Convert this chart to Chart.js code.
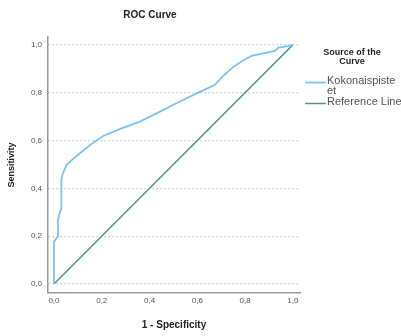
<!DOCTYPE html>
<html lang="en">
<head>
  <meta charset="UTF-8">
  <title>ROC Curve</title>
  <script src="https://cdn.jsdelivr.net/npm/chart.js"></script>
  <style>
    html, body { margin: 0; padding: 0; background: #fff; }
    #wrap { width: 401px; height: 336px; }
  </style>
</head>
<body>
  <div id="wrap"><canvas id="roc"></canvas></div>
  <script>
    // ROC points: 1 - specificity (x) and sensitivity (y)
    const fpr = [0, 0, 0.011, 0.017, 0.017, 0.025, 0.031, 0.031, 0.035, 0.053, 0.08, 0.116, 0.16, 0.206, 0.28, 0.36, 0.444, 0.527, 0.6, 0.674, 0.71, 0.75, 0.79, 0.827, 0.925, 0.939, 0.98, 1];
    const tpr = [0, 0.177, 0.192, 0.197, 0.268, 0.302, 0.31, 0.435, 0.456, 0.498, 0.523, 0.553, 0.588, 0.619, 0.65, 0.679, 0.721, 0.763, 0.798, 0.833, 0.872, 0.907, 0.934, 0.954, 0.975, 0.989, 0.995, 1];
    const refX = [0, 1];
    const refY = [0, 1];
    const tickValues = [0, 0.2, 0.4, 0.6, 0.8, 1.0];
    // legend names, already split into the lines they are shown on
    const seriesNames = [['Kokonaispiste', 'et'], ['Reference Line']];
    const legendTitle = ['Source of the', 'Curve'];

    const fmt = v => v.toFixed(1).replace('.', ',');
    const setTicks = scale => { scale.ticks = tickValues.map(v => ({ value: v })); };

    // legend drawn at the right side of the plot
    const sideLegend = {
      id: 'sideLegend',
      afterDraw(chart) {
        const ctx = chart.ctx;
        const x0 = chart.chartArea.right;
        ctx.save();
        ctx.fillStyle = '#222';
        ctx.textAlign = 'center';
        ctx.textBaseline = 'middle';
        ctx.font = 'bold 9px Arial, "Liberation Sans", sans-serif';
        legendTitle.forEach((t, i) => ctx.fillText(t, x0 + 52, 53 + i * 9));

        ctx.font = '11px Arial, "Liberation Sans", sans-serif';
        ctx.textAlign = 'left';
        let y = 81;
        chart.data.datasets.forEach((ds, k) => {
          const lines = seriesNames[k];
          ctx.strokeStyle = ds.borderColor;
          ctx.lineWidth = ds.borderWidth;
          ctx.beginPath();
          ctx.moveTo(x0 + 5, y + 1.5);
          ctx.lineTo(x0 + 26, y + 1.5);
          ctx.stroke();
          ctx.fillStyle = '#555';
          lines.forEach((l, i) => ctx.fillText(l, x0 + 27, y + i * 10));
          y += lines.length * 10 + 1;
        });
        ctx.restore();
      }
    };

    new Chart(document.getElementById('roc'), {
      type: 'scatter',
      data: {
        datasets: [
          {
            label: seriesNames[0].join(''),
            data: fpr.map((x, i) => ({ x: x, y: tpr[i] })),
            showLine: true,
            borderColor: '#7cc3f3',
            borderWidth: 1.8,
            pointRadius: 0,
            tension: 0,
            order: 0
          },
          {
            label: seriesNames[1].join(''),
            data: refX.map((x, i) => ({ x: x, y: refY[i] })),
            showLine: true,
            borderColor: '#4f9a8e',
            borderWidth: 1.5,
            pointRadius: 0,
            order: 1
          }
        ]
      },
      options: {
        responsive: true,
        maintainAspectRatio: false,
        animation: false,
        layout: { padding: { left: 0, right: 101, top: 6, bottom: 0 } },
        plugins: {
          legend: { display: false },
          tooltip: { enabled: false },
          title: {
            display: true,
            text: 'ROC Curve',
            color: '#222',
            font: { family: 'Arial, "Liberation Sans", sans-serif', size: 10, weight: 'bold' },
            padding: { top: 3, bottom: 16 }
          }
        },
        scales: {
          x: {
            type: 'linear',
            min: -0.025,
            max: 1.03,
            afterBuildTicks: setTicks,
            afterFit: s => { s.height = 43; },
            grid: { display: false, drawTicks: false },
            border: { display: true, color: '#9a9a9a', width: 1.5 },
            ticks: {
              padding: 3,
              color: '#555',
              font: { family: 'Arial, "Liberation Sans", sans-serif', size: 8 },
              callback: v => fmt(v),
              maxRotation: 0
            },
            title: {
              display: true,
              text: '1 - Specificity',
              color: '#222',
              font: { family: 'Arial, "Liberation Sans", sans-serif', size: 10, weight: 'bold' },
              padding: { top: 0, bottom: 5 }
            }
          },
          y: {
            type: 'linear',
            min: -0.038,
            max: 1.033,
            afterBuildTicks: setTicks,
            afterFit: s => { s.width = 48; },
            grid: { color: '#c8c8c8', lineWidth: 1.2, drawTicks: false },
            border: { display: true, color: '#9a9a9a', width: 1.5, dash: [1.5, 2.5] },
            ticks: {
              padding: 6,
              color: '#555',
              font: { family: 'Arial, "Liberation Sans", sans-serif', size: 8 },
              callback: v => fmt(v)
            },
            title: {
              display: true,
              text: 'Sensitivity',
              color: '#222',
              font: { family: 'Arial, "Liberation Sans", sans-serif', size: 9, weight: 'bold' },
              padding: { top: 6, bottom: 0 }
            }
          }
        }
      },
      plugins: [sideLegend]
    });
  </script>
</body>
</html>
